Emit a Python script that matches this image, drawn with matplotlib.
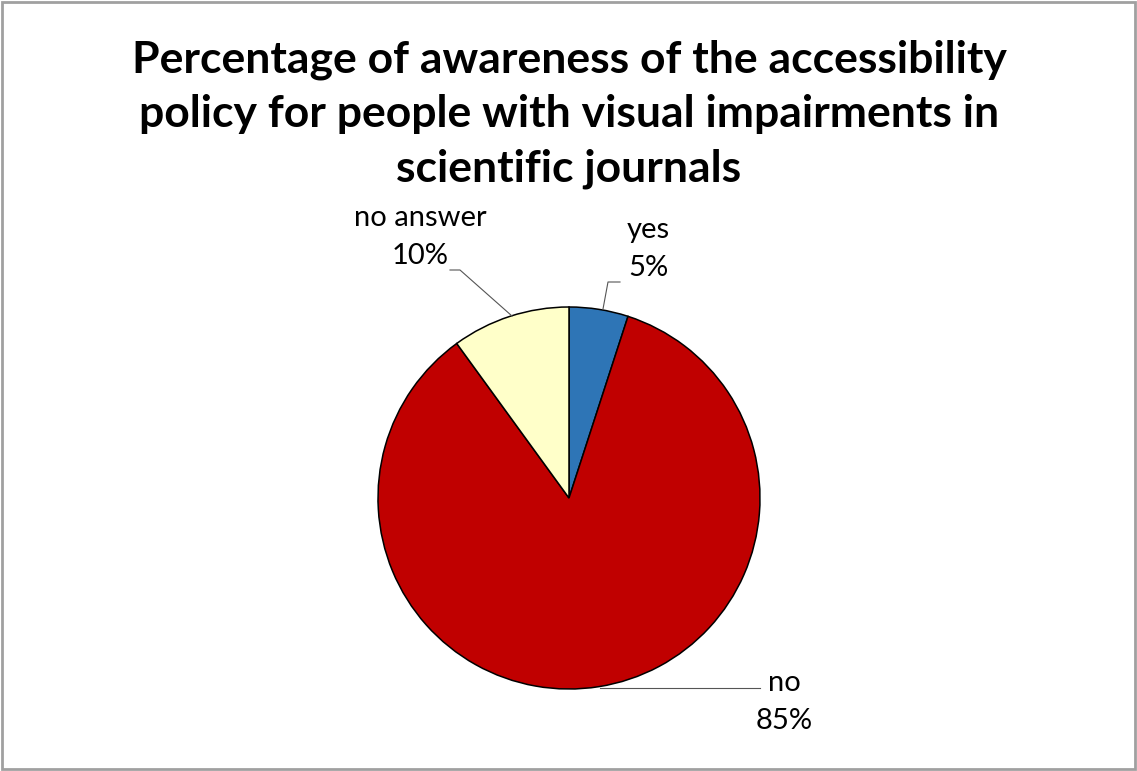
import matplotlib.pyplot as plt
from matplotlib.patches import Rectangle

# Datos del grafico
etiquetas = ["yes", "no", "no answer"]
valores = [5, 85, 10]
colores = ["#2E75B6", "#C00000", "#FFFFC9"]

titulo = ("Percentage of awareness of the accessibility\n"
          "policy for people with visual impairments in\n"
          "scientific journals")

W, H = 1137, 771
fig = plt.figure(figsize=(W / 100, H / 100), dpi=100)
ax = fig.add_axes([0, 0, 1, 1])
ax.set_xlim(0, W)
ax.set_ylim(0, H)
ax.set_aspect("equal")
ax.axis("off")

# Pastel (centro y radio en pixeles, y hacia arriba)
cx, cy, r = 569, H - 498, 191
cunas, _ = ax.pie(valores, colors=colores, startangle=90, counterclock=False,
                  center=(cx, cy), radius=r,
                  wedgeprops=dict(edgecolor="black", linewidth=1.1))
ax.set_xlim(0, W)
ax.set_ylim(0, H)

# Titulo
ax.text(569, H - 114, titulo, ha="center", va="center", fontsize=32,
        fontweight="bold", family="Lato", linespacing=1.43)

# Etiquetas de datos
fuente = dict(family="Lato", fontsize=21, ha="center", va="center",
              linespacing=1.6)
ax.text(648, H - 249, f"{etiquetas[0]}\n{valores[0]}%", **fuente)
ax.text(420, H - 237, f"{etiquetas[2]}\n{valores[2]}%", **fuente)
ax.text(784, H - 702, f"{etiquetas[1]}\n{valores[1]}%", **fuente)

# Lineas guia
gris = "#555555"
ax.plot([620, 608, 603], [H - 282, H - 282, H - 309], color=gris, lw=0.8)
ax.plot([450, 460, 512], [H - 270, H - 270, H - 316], color=gris, lw=0.8)
ax.plot([760, 600], [H - 688, H - 688], color=gris, lw=0.8)

# Borde del grafico
fig.patches.append(Rectangle((0.002, 0.003), 0.996, 0.994, transform=fig.transFigure,
                             fill=False, edgecolor="#A0A0A0", linewidth=2))

fig.savefig("out.png", dpi=100)
